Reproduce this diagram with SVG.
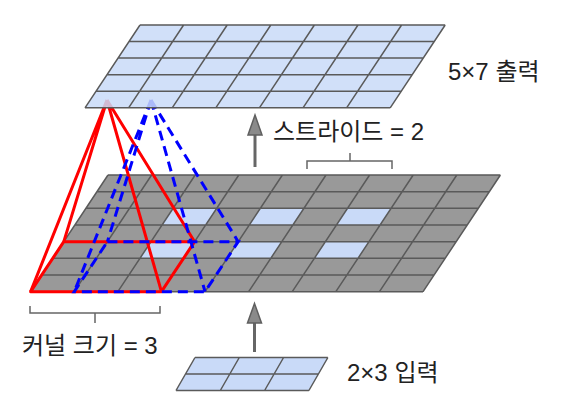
<svg xmlns="http://www.w3.org/2000/svg" width="568" height="416" viewBox="0 0 568 416">
<style>
  .gl { stroke: #5a5a5a; stroke-width: 1.5; fill: none; }
  .blue { fill: #c9daf8; }
  .gray { fill: #999999; }
  .red { stroke: #ff0000; stroke-width: 3; fill: none; stroke-linejoin: round; }
  .bl { stroke: #0000ff; stroke-width: 3; fill: none; stroke-dasharray: 10 6; }
  .br { stroke: #666666; stroke-width: 1.5; fill: none; }
  .shaft { stroke: #666666; stroke-width: 3; }
  .head { fill: #8a8a8a; stroke: #5f5f5f; stroke-width: 1.5; stroke-linejoin: miter; }
  text { font-family: "Liberation Sans", "Noto Sans CJK KR", sans-serif; font-size: 24px; fill: #222222; }
</style>

<!-- middle (zero-inserted, padded) layer -->
<g id="middle-layer">
  <polygon class="gray" points="108,175 500.4,175 423.05,291.67 30.65,291.67"/>
  <polygon class="blue" points="173.1,208.33 216.7,208.33 205.65,225 162.05,225"/>
  <polygon class="blue" points="260.3,208.33 303.9,208.33 292.85,225 249.25,225"/>
  <polygon class="blue" points="347.5,208.33 391.1,208.33 380.05,225 336.45,225"/>
  <polygon class="blue" points="151,241.67 194.6,241.67 183.55,258.33 139.95,258.33"/>
  <polygon class="blue" points="238.2,241.67 281.8,241.67 270.75,258.33 227.15,258.33"/>
  <polygon class="blue" points="325.4,241.67 369,241.67 357.95,258.33 314.35,258.33"/>
  <path class="gl" d="M108,175H500.4 M96.95,191.67H489.35 M85.9,208.33H478.3 M74.85,225H467.25 M63.8,241.67H456.2 M52.75,258.33H445.15 M41.7,275H434.1 M30.65,291.67H423.05
    M108,175L30.65,291.67 M151.6,175L74.25,291.67 M195.2,175L117.85,291.67 M238.8,175L161.45,291.67 M282.4,175L205.05,291.67 M326,175L248.65,291.67 M369.6,175L292.25,291.67 M413.2,175L335.85,291.67 M456.8,175L379.45,291.67 M500.4,175L423.05,291.67"/>
</g>

<!-- kernel pyramids -->
<g id="kernel-red">
  <polygon class="red" points="63.8,241.67 194.6,241.67 161.45,291.67 30.65,291.67"/>
  <path class="red" d="M107,100L30.65,291.67 M107,100L63.8,241.67 M107,100L194.6,241.67 M107,100L161.45,291.67"/>
</g>
<g id="kernel-blue">
  <polygon class="bl" points="107.4,241.67 238.2,241.67 205.05,291.67 74.25,291.67"/>
  <path class="bl" d="M151,100L74.25,291.67 M151,100L107.4,241.67 M151,100L238.2,241.67 M151,100L205.05,291.67"/>
</g>

<!-- top output layer 5x7 -->
<g id="output-layer">
  <polygon class="blue" fill-opacity="0.85" points="140,25 445.2,25 390.2,107.8 85,107.8"/>
  <path class="gl" d="M140,25H445.2 M129,41.56H434.2 M118,58.12H423.2 M107,74.68H412.2 M96,91.24H401.2 M85,107.8H390.2
    M140,25L85,107.8 M183.6,25L128.6,107.8 M227.2,25L172.2,107.8 M270.8,25L215.8,107.8 M314.4,25L259.4,107.8 M358,25L303,107.8 M401.6,25L346.6,107.8 M445.2,25L390.2,107.8"/>
</g>

<!-- bottom input layer 2x3 -->
<g id="input-layer">
  <polygon class="blue" points="195,357.5 327.9,357.5 308.9,390.5 176,390.5"/>
  <path class="gl" d="M195,357.5H327.9 M185.5,374H318.4 M176,390.5H308.9
    M195,357.5L176,390.5 M239.3,357.5L220.3,390.5 M283.6,357.5L264.6,390.5 M327.9,357.5L308.9,390.5"/>
</g>

<!-- connectors -->
<g id="connectors">
  <line class="shaft" x1="255" y1="167" x2="255" y2="133"/>
  <polygon class="head" points="255,115 262,135 248,135"/>
  <line class="shaft" x1="254.5" y1="352" x2="254.5" y2="321"/>
  <polygon class="head" points="254.5,303.5 261.5,323 247.5,323"/>
  <path class="br" d="M307,169V161H392V169 M350,161V153"/>
  <path class="br" d="M30,306V313H160V306 M95,313V323"/>
</g>

<g id="labels">
  <text x="448" y="80">5×7 출력</text>
  <text x="273" y="140">스트라이드 = 2</text>
  <text x="347" y="381">2×3 입력</text>
  <text x="22" y="354">커널 크기 = 3</text>
</g>
</svg>
